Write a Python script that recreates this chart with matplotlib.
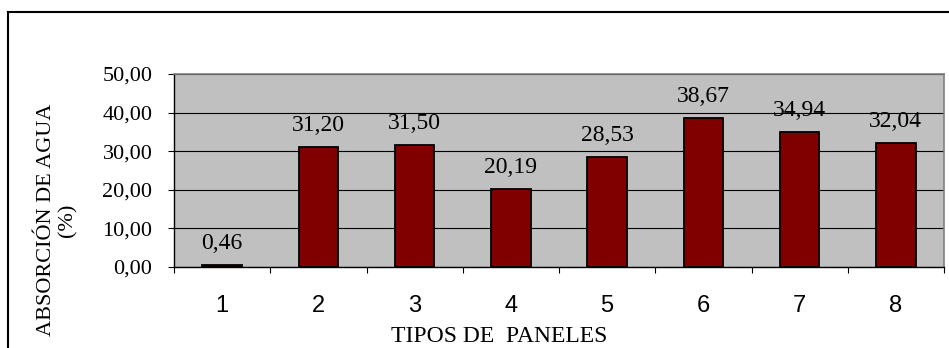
import matplotlib
matplotlib.use("Agg")
import matplotlib.pyplot as plt
from matplotlib.lines import Line2D
from matplotlib.ticker import FuncFormatter

categories = ["1", "2", "3", "4", "5", "6", "7", "8"]
values = [0.46, 31.20, 31.50, 20.19, 28.53, 38.67, 34.94, 32.04]
y_ticks = [0, 10, 20, 30, 40, 50]
x_title = "TIPOS DE  PANELES"
y_title = "ABSORCIÓN DE AGUA\n(%)"

W, H = 949, 348
DPI = 100
fig = plt.figure(figsize=(W / DPI, H / DPI), dpi=DPI)
fig.patch.set_facecolor("white")

def fx(px):
    return px / W

def fy(py):
    return 1 - py / H

# outer chart border (cropped on right and bottom)
fig.add_artist(Line2D([fx(8), fx(960)], [fy(11.5), fy(11.5)], color="black", lw=1.5, transform=fig.transFigure))
fig.add_artist(Line2D([fx(8), fx(8)], [fy(11.5), fy(360)], color="black", lw=1.5, transform=fig.transFigure))

left, right, top, bottom = 174, 944, 74, 267
ax = fig.add_axes([fx(left), fy(bottom), fx(right - left), (bottom - top) / H])
ax.set_facecolor("#C0C0C0")

xs = list(range(1, len(categories) + 1))
bars = ax.bar(xs, values, width=0.41, color="#800000", edgecolor="black", linewidth=1.3, zorder=3)

ax.set_xlim(0.5, len(categories) + 0.5)
ax.set_ylim(0, 50)
ax.set_yticks(y_ticks)
ax.yaxis.set_major_formatter(FuncFormatter(lambda v, p: f"{v:.2f}".replace(".", ",")))
ax.grid(axis="y", color="black", linewidth=0.8, zorder=1)
ax.set_axisbelow(True)

for s in ["top", "right"]:
    ax.spines[s].set_color("#808080")
    ax.spines[s].set_linewidth(1.2)
for s in ["left", "bottom"]:
    ax.spines[s].set_color("black")
    ax.spines[s].set_linewidth(1.0)

# major ticks at category boundaries, labels at centers
ax.set_xticks([i + 0.5 for i in range(0, len(categories) + 1)])
ax.set_xticklabels([])
ax.set_xticks(xs, minor=True)
ax.set_xticklabels(categories, minor=True, fontfamily="Liberation Sans", fontsize=17)
ax.tick_params(axis="x", which="major", direction="out", length=4.5, width=0.8, color="black")
ax.tick_params(axis="x", which="minor", length=0, pad=20)
ax.tick_params(axis="y", direction="out", length=4.5, width=0.8, pad=11)
for lab in ax.get_yticklabels():
    lab.set_fontfamily("Liberation Serif")
    lab.set_fontsize(16)

for x, v in zip(xs, values):
    ax.annotate(f"{v:.2f}".replace(".", ","), (x, v), xytext=(0, 11.5), textcoords="offset points",
                ha="center", va="baseline", fontfamily="Liberation Serif", fontsize=17, zorder=5)

fig.text(fx(499), fy(342), x_title, ha="center", va="baseline",
         fontfamily="Liberation Serif", fontsize=17)
fig.text(fx(57), fy(220), y_title, ha="center", va="center", rotation=90,
         multialignment="center", fontfamily="Liberation Serif", fontsize=16, linespacing=1.15)

fig.savefig("out.png", dpi=DPI)
